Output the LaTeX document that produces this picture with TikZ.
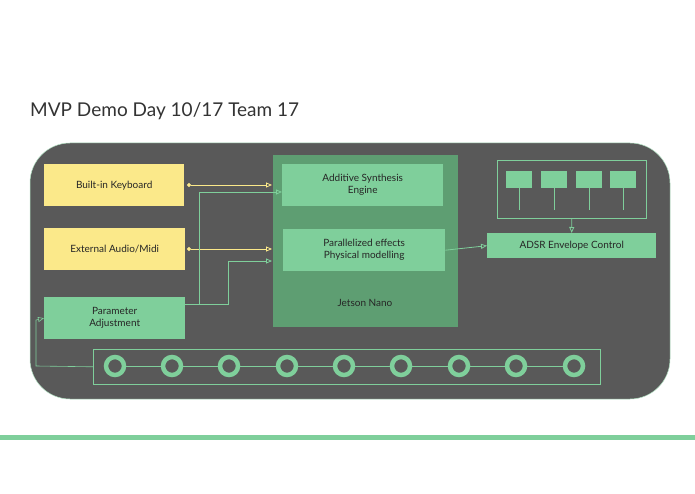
\documentclass[tikz,border=0pt]{standalone}
\usepackage{fontspec}
\setmainfont{Lato}
\usetikzlibrary{arrows.meta}
\definecolor{dark}{HTML}{595959}
\definecolor{gr}{HTML}{7FCF9B}
\definecolor{dg}{HTML}{5E9E72}
\definecolor{yl}{HTML}{FBE98A}
\begin{document}
\begin{tikzpicture}[x=1pt,y=-1pt,
 box/.style={draw=none,fill=#1,inner sep=0,font=\fontsize{10}{12}\selectfont,align=center,text=black!85},
 ga/.style={draw=gr,line width=0.8pt,-{Triangle[open,length=6pt,width=5pt]}},
 ya/.style={draw=yl,line width=0.8pt,{Circle[length=4pt]}-{Triangle[open,length=6pt,width=5pt]}},
 knob/.style={circle,draw=gr,line width=4.5pt,minimum size=18pt,inner sep=0,fill=dark}]
\useasboundingbox (0,0) rectangle (695,494);
\fill[white] (0,0) rectangle (695,494);
\node[anchor=base west,inner sep=0,font=\fontsize{19}{22}\selectfont,text=black!80] (title) at (30,117) {MVP Demo Day 10/17 Team 17};
\draw[fill=dark,draw=gr!60,line width=0.5pt,rounded corners=40pt] (30,143) rectangle (670,399);
\fill[gr] (0,435) rectangle (695,440);
\node[box=dg,minimum width=185,minimum height=172,anchor=north west] (jet) at (273,155) {};
\node[font=\fontsize{10}{12}\selectfont,text=black!85] (jt) at (365,303) {Jetson Nano};
\node[box=yl,minimum width=140,minimum height=42,anchor=north west] (kb) at (44,164) {Built-in Keyboard};
\node[box=yl,minimum width=141,minimum height=42,anchor=north west] (ext) at (44,228) {External Audio/Midi};
\node[box=gr,minimum width=141,minimum height=42,anchor=north west] (par) at (44,297) {Parameter\\Adjustment};
\node[box=gr,minimum width=161,minimum height=42,anchor=north west] (add) at (282,164) {Additive Synthesis\\Engine};
\node[box=gr,minimum width=162,minimum height=42,anchor=north west] (pe) at (283,229) {Parallelized effects\\Physical modelling};
\node[box=gr,minimum width=169,minimum height=25,anchor=north west] (adsr) at (487,233) {ADSR Envelope Control};
\node[draw=gr,line width=0.6pt,minimum width=149,minimum height=58,anchor=north west,inner sep=0] (panel) at (497,160) {};
\foreach \x in {506,541,576,610}{
 \draw[gr,line width=1pt] (\x+13,188) -- (\x+13,210);
 \fill[gr] (\x,171) rectangle (\x+26,188);}
\draw[ga] (panel.south) -- (adsr.north);
\draw[ga] (pe.east) -- (adsr.west);
\node[draw=gr,line width=0.6pt,minimum width=507,minimum height=35,anchor=north west,inner sep=0] (strip) at (93,349) {};
\draw[gr,line width=0.6pt] (105,366) -- (585,366);
\foreach \x [count=\i] in {115,172,229,287,344,401,459,516,574}{\node[knob] (k\i) at (\x,366) {};}
\coordinate (c1) at (36,366);
\coordinate (c2) at (36,320);
\draw[gr,line width=0.6pt,-{Triangle[open,length=6pt,width=5pt]}] (strip.west) -- (c1) -- (c2) -- (par.west);
\draw[ya] (187,185) -- (272,185);
\draw[ya] (187,249) -- (272,249);
\coordinate (p1) at (199,304);
\draw[ga] (185,304) -- (p1) -- (199,192) -- (282,192);
\draw[ga] (p1) -- (228,304) -- (228,261) -- (272,261);
\end{tikzpicture}
\end{document}
